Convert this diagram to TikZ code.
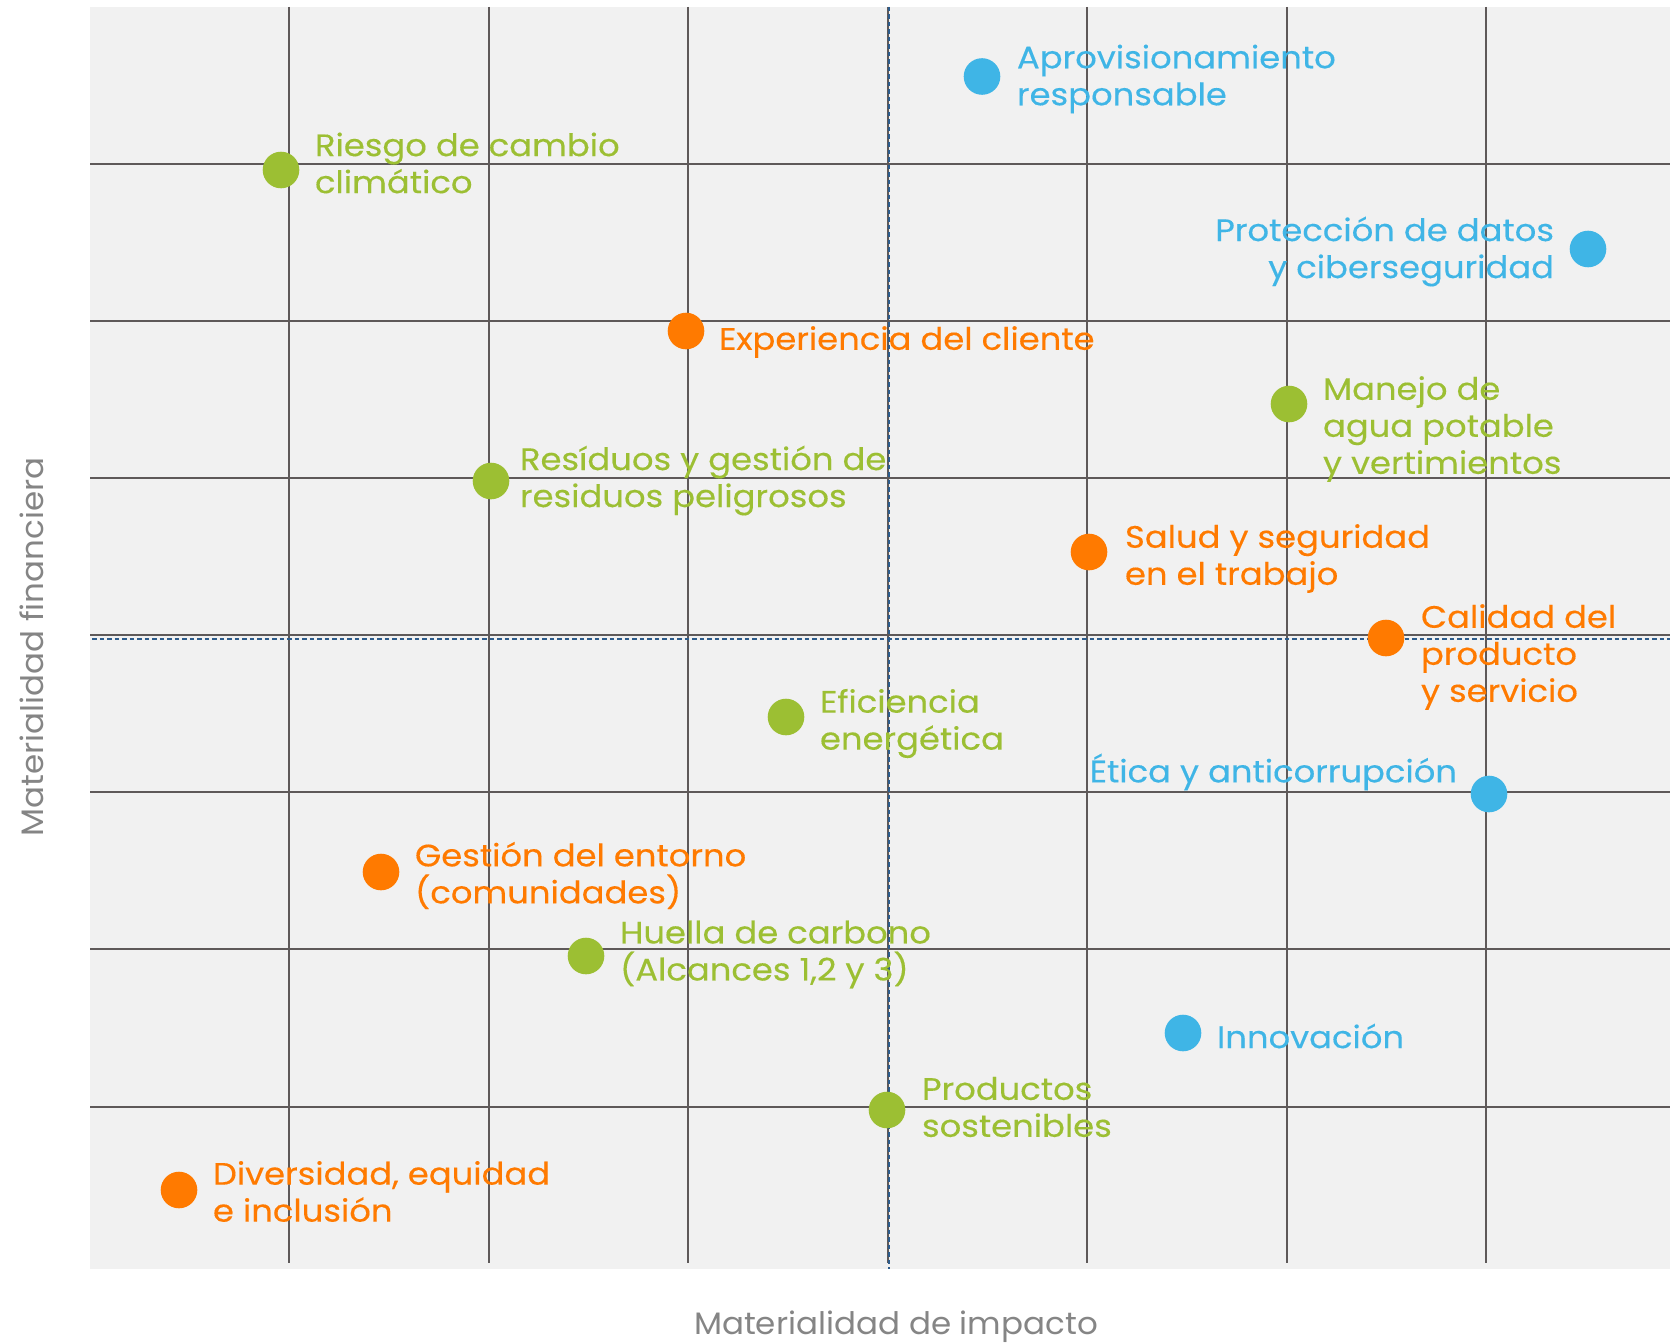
\documentclass[tikz,border=0pt]{standalone}
\usepackage{fontspec}
\setmainfont{Poppins}
\newfontfamily\topicfont{Poppins}[FakeStretch=1.09,FakeBold=0.3]
\newfontfamily\axisfont{Poppins}[FakeStretch=1.05]
\definecolor{matgreen}{HTML}{9CBF33}
\definecolor{matorange}{HTML}{FF7A00}
\definecolor{matblue}{HTML}{3FB5E6}
\definecolor{gridbg}{HTML}{F1F1F1}
\definecolor{gridline}{HTML}{5E5959}
\definecolor{axisgray}{HTML}{858585}
\definecolor{cutline}{HTML}{2D5C8C}

\begin{document}
\begin{tikzpicture}[y=0.5pt, x=0.5pt, yscale=-1, inner sep=0pt, outer sep=0pt,
  dot/.style={circle, minimum size=18.3pt},
  lbl/.style={font=\topicfont\fontsize{15.5}{18.5}\selectfont, align=left, anchor=west},
  rlbl/.style={font=\topicfont\fontsize{15.5}{18.5}\selectfont, align=right, anchor=east},
  axislbl/.style={font=\axisfont\fontsize{15.5}{18.5}\selectfont, text=axisgray}]
\useasboundingbox (0,0) rectangle (1670,1343);
\path[fill=gridbg] (90,7) rectangle (1670,1269);

% grid
\path[draw=gridline,line width=1.0pt] (289,7) -- (289,1263);
\path[draw=gridline,line width=1.0pt] (488.5,7) -- (488.5,1263);
\path[draw=gridline,line width=1.0pt] (688,7) -- (688,1263);
\path[draw=gridline,line width=1.0pt] (887.5,7) -- (887.5,1263);
\path[draw=gridline,line width=1.0pt] (1087,7) -- (1087,1263);
\path[draw=gridline,line width=1.0pt] (1286.5,7) -- (1286.5,1263);
\path[draw=gridline,line width=1.0pt] (1485.5,7) -- (1485.5,1263);
\path[draw=gridline,line width=1.0pt] (90,164) -- (1670,164);
\path[draw=gridline,line width=1.0pt] (90,321) -- (1670,321);
\path[draw=gridline,line width=1.0pt] (90,478) -- (1670,478);
\path[draw=gridline,line width=1.0pt] (90,635) -- (1670,635);
\path[draw=gridline,line width=1.0pt] (90,792) -- (1670,792);
\path[draw=gridline,line width=1.0pt] (90,949) -- (1670,949);
\path[draw=gridline,line width=1.0pt] (90,1106.5) -- (1670,1106.5);

% quadrant cuts
\path[draw=cutline,line width=0.75pt,dash pattern=on 2.25pt off 1.5pt]
  (889,7) -- (889,1269);
\path[draw=cutline,line width=0.75pt,dash pattern=on 2.25pt off 1.5pt]
  (92,639) -- (1670,639);

% topics
\path (982,76.5) node[dot,fill=matblue] (aprovDot) {};
\path (1017,79) node[lbl,text=matblue] (aprovText)
  {Aprovisionamiento\\responsable};
\path (281,170) node[dot,fill=matgreen] (riesgoDot) {};
\path (315,163) node[lbl,text=matgreen] (riesgoText)
  {Riesgo de cambio\\climático};
\path (1588,249) node[dot,fill=matblue] (datosDot) {};
\path (1554,251.5) node[rlbl,text=matblue] (datosText)
  {Protección de datos\\y ciberseguridad};
\path (686,331) node[dot,fill=matorange] (clienteDot) {};
\path (719,342) node[lbl,text=matorange] (clienteText)
  {Experiencia del cliente};
\path (1289,404) node[dot,fill=matgreen] (aguaDot) {};
\path (1323,429) node[lbl,text=matgreen] (aguaText)
  {Manejo de\\agua potable\\y vertimientos};
\path (491,481) node[dot,fill=matgreen] (residuosDot) {};
\path (520,480.5) node[lbl,text=matgreen] (residuosText)
  {Resíduos y gestión de\\residuos peligrosos};
\path (1089,552) node[dot,fill=matorange] (saludDot) {};
\path (1125,558.5) node[lbl,text=matorange] (saludText)
  {Salud y seguridad\\en el trabajo};
\path (1386,638) node[dot,fill=matorange] (calidadDot) {};
\path (1421,657) node[lbl,text=matorange] (calidadText)
  {Calidad del\\producto\\y servicio};
\path (786,717) node[dot,fill=matgreen] (energiaDot) {};
\path (820,723.5) node[lbl,text=matgreen] (energiaText)
  {Eficiencia\\energética};
\path (1489,794) node[dot,fill=matblue] (eticaDot) {};
\path (1457,772) node[rlbl,text=matblue] (eticaText)
  {Ética y anticorrupción};
\path (381,872) node[dot,fill=matorange] (entornoDot) {};
\path (415,875.5) node[lbl,text=matorange] (entornoText)
  {Gestión del entorno\\(comunidades)};
\path (586,956) node[dot,fill=matgreen] (carbonoDot) {};
\path (620,954.5) node[lbl,text=matgreen] (carbonoText)
  {Huella de carbono\\(Alcances 1,2 y 3)};
\path (1183,1033) node[dot,fill=matblue] (innovDot) {};
\path (1217,1036) node[lbl,text=matblue] (innovText) {Innovación};
\path (887,1110) node[dot,fill=matgreen] (productosDot) {};
\path (922,1107) node[lbl,text=matgreen] (productosText)
  {Productos\\sostenibles};
\path (179,1190) node[dot,fill=matorange] (diversidadDot) {};
\path (213,1191.5) node[lbl,text=matorange] (diversidadText)
  {Diversidad, equidad\\e inclusión};

% axes
\path (896,1327) node[axislbl] (impactoText) {Materialidad de impacto};
\path (32,647) node[axislbl,rotate=90] (financieraText)
  {Materialidad financiera};
\end{tikzpicture}
\end{document}
